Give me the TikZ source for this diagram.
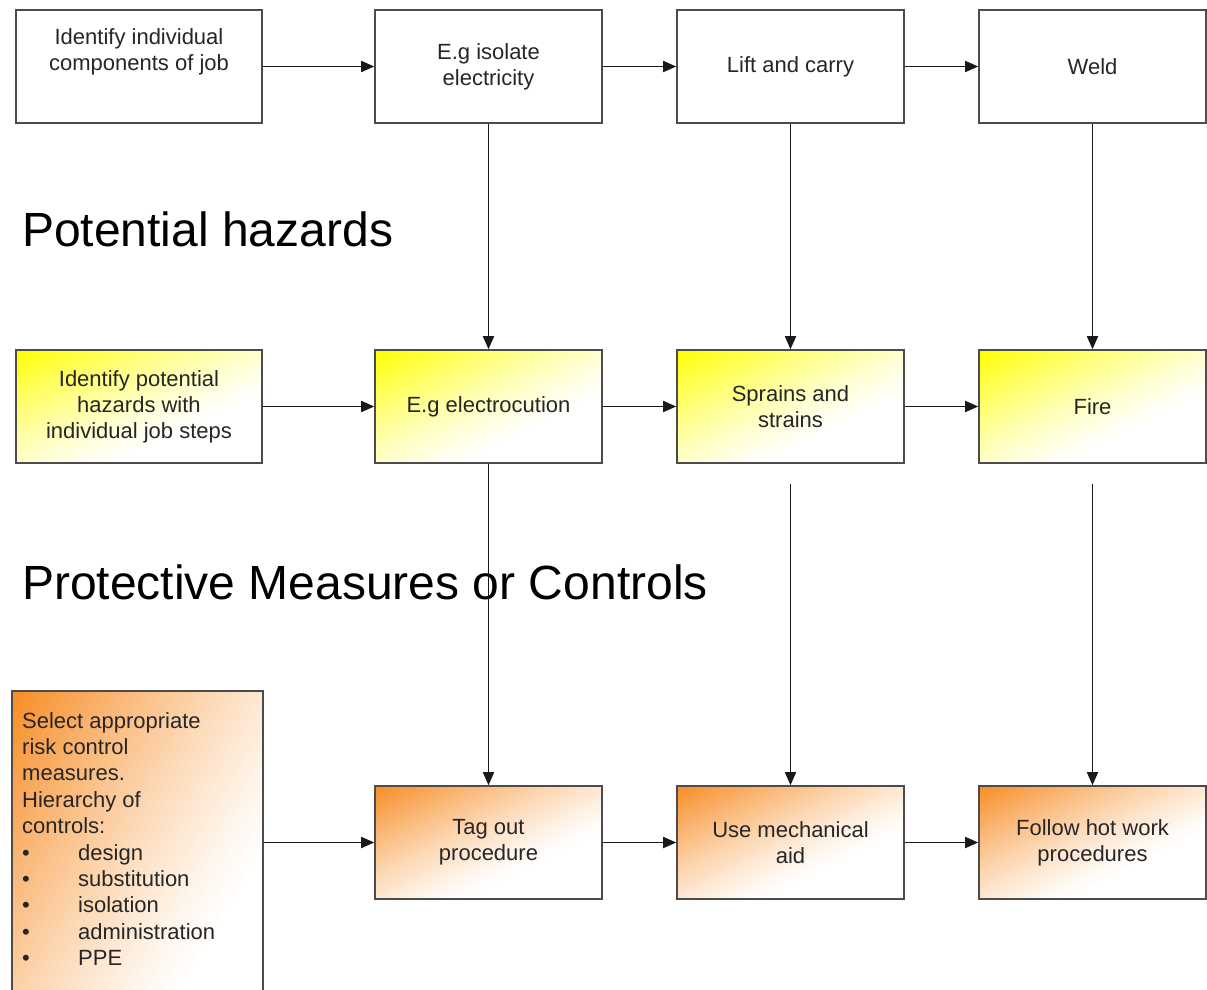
\documentclass[tikz,border=0pt]{standalone}
\usepackage{fontspec}
\setmainfont{Liberation Sans}
\usetikzlibrary{arrows.meta,calc}
\definecolor{hazyellow}{RGB}{255,255,0}
\definecolor{ctrlorange}{RGB}{247,140,35}
\begin{document}
\begin{tikzpicture}[x=1pt,y=-1pt,
  box/.style={draw=black!70, line width=1.6pt, minimum width=227pt, minimum height=113pt,
    inner sep=0pt, align=center, font=\fontsize{22}{26}\selectfont, text=black!85},
  gradbox/.style={box, path picture={
    \foreach \i in {0,...,44} {
      \pgfmathsetmacro\ta{\i/45*0.7}
      \pgfmathsetmacro\tb{(\i+1.3)/45*0.7}
      \pgfmathsetmacro\cv{100*(1-(\i+0.5)/45)^1.25}
      \fill[fill=#1!\cv!white]
        ($(path picture bounding box.north west)!\ta!(path picture bounding box.south east)
          + (path picture bounding box.north east) - (path picture bounding box.south west)$)
        -- ($(path picture bounding box.north west)!\ta!(path picture bounding box.south east)
          - (path picture bounding box.north east) + (path picture bounding box.south west)$)
        -- ($(path picture bounding box.north west)!\tb!(path picture bounding box.south east)
          - (path picture bounding box.north east) + (path picture bounding box.south west)$)
        -- ($(path picture bounding box.north west)!\tb!(path picture bounding box.south east)
          + (path picture bounding box.north east) - (path picture bounding box.south west)$)
        -- cycle;
    }}},
  hazbox/.style={gradbox=hazyellow},
  ctrlbox/.style={gradbox=ctrlorange},
  boxtext/.style={inner sep=0pt, align=center, font=\fontsize{22}{26}\selectfont, text=black!85},
  heading/.style={anchor=west, inner sep=0pt, font=\fontsize{48}{56}\selectfont, text=black},
  arr/.style={line width=1.7pt, draw=black!90, -{Triangle[length=13pt,width=11pt]}}]
\useasboundingbox (0,0) rectangle (1207,989);
\begin{scope}
\clip (0,0) rectangle (1207,989);
% row 1: job steps
\node[box, minimum width=246pt] (j1) at (139,66.5) {};
\node[boxtext] (j1t) at (139,52) {Identify individual\\components of job};
\node[box] (j2) at (488.5,66.5) {E.g isolate\\electricity};
\node[box] (j3) at (790.5,66.5) {Lift and carry};
\node[box] (j4) at (1092.5,66.5) {Weld};
% row 2: hazards
\node[hazbox, minimum width=246pt] (h1) at (139,406.5) {Identify potential\\hazards with\\individual job steps};
\node[hazbox] (h2) at (488.5,406.5) {E.g electrocution};
\node[hazbox] (h3) at (790.5,406.5) {Sprains and\\strains};
\node[hazbox] (h4) at (1092.5,406.5) {Fire};
% row 3: controls
\node[ctrlbox, minimum width=251pt, minimum height=420pt, anchor=north west] (sel) at (11,690) {};
\node[anchor=north west, inner sep=0pt, align=left, font=\fontsize{22}{26.4}\selectfont, text=black!85] (selt) at (22,712)
 {Select appropriate\\risk control\\measures.\\Hierarchy of\\controls:\\
  \makebox[56pt][l]{\textbullet}design\\
  \makebox[56pt][l]{\textbullet}substitution\\
  \makebox[56pt][l]{\textbullet}isolation\\
  \makebox[56pt][l]{\textbullet}administration\\
  \makebox[56pt][l]{\textbullet}PPE};
\node[ctrlbox] (c2) at (488.5,842.5) {Tag out\\procedure};
\node[ctrlbox] (c3) at (790.5,842.5) {Use mechanical\\aid};
\node[ctrlbox] (c4) at (1092.5,842.5) {Follow hot work\\procedures};
% headings
\node[heading] (ph) at (22,229) {Potential hazards};
\node[heading] (pm) at (22,582) {Protective Measures or Controls};
% connectors
\draw[arr] (j1.east) -- (j2.west);
\draw[arr] (j2) -- (j3);
\draw[arr] (j3) -- (j4);
\draw[arr] (h1.east) -- (h2.west);
\draw[arr] (h2) -- (h3);
\draw[arr] (h3) -- (h4);
\draw[arr] (sel.east |- c2.west) -- (c2.west);
\draw[arr] (c2) -- (c3);
\draw[arr] (c3) -- (c4);
\draw[arr] (j2) -- (h2);
\draw[arr] (j3) -- (h3);
\draw[arr] (j4) -- (h4);
\draw[arr] (h2) -- (c2);
\draw[arr] ([yshift=-20pt]h3.south) -- (c3.north);
\draw[arr] ([yshift=-20pt]h4.south) -- (c4.north);
\end{scope}
\end{tikzpicture}
\end{document}
